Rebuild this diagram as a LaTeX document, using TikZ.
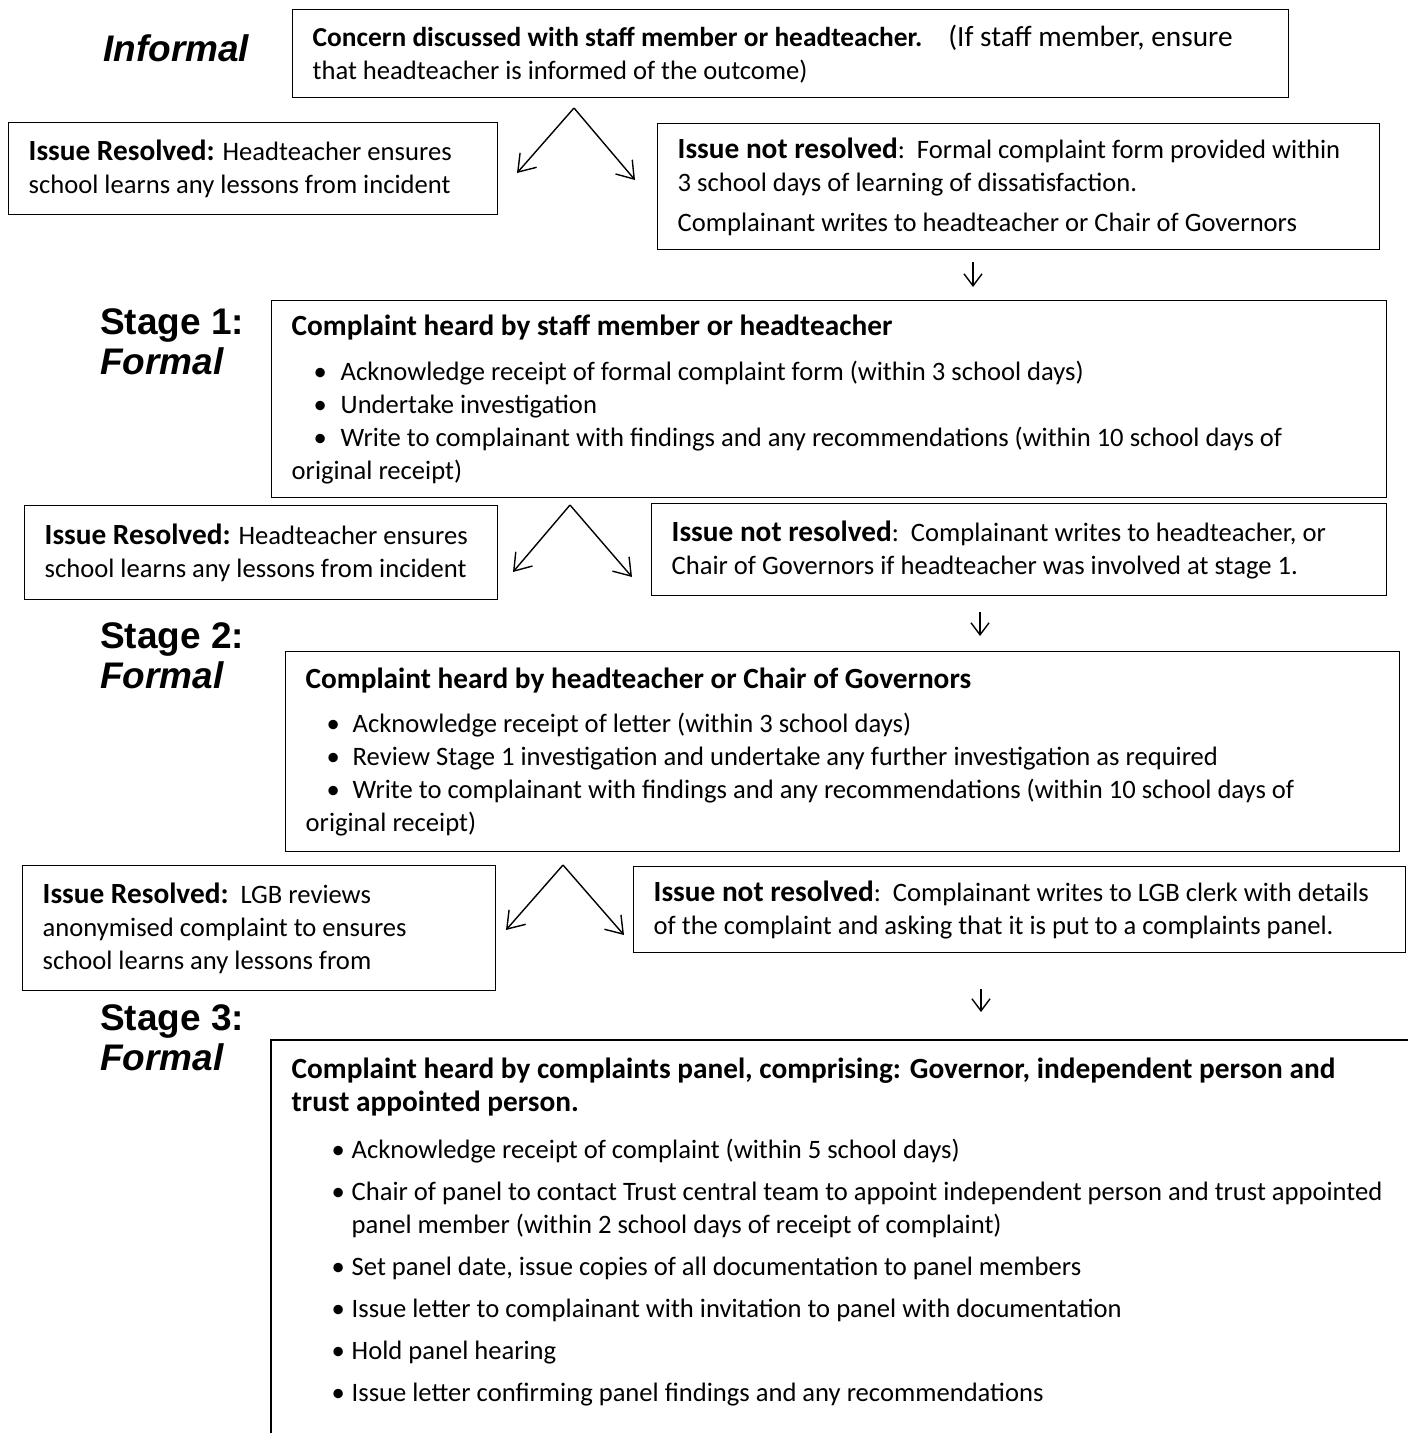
\documentclass[tikz,border=0pt]{standalone}
\usepackage{fontspec}
\setmainfont{Carlito}
\newfontfamily\stagefont{Liberation Sans}
\usepackage{tikz}
\usetikzlibrary{arrows.meta}

\newcommand\flowfont{\fontsize{26.6pt}{33pt}\selectfont\parindent=0pt\hyphenpenalty=10000}
\newcommand\bigrun{\fontsize{29.3pt}{33pt}\selectfont}
\newcommand\bulitem[3]{\par\hangindent=#2\hangafter=1\noindent\hspace*{#1}\makebox[\dimexpr#2-#1\relax][l]{\textbullet}#3}

\tikzset{
  flowbox/.style={draw, line width=1.4pt, anchor=north west, inner xsep=20pt, inner ysep=0pt, align=flush left, font=\flowfont},
  stagelabel/.style={anchor=west, inner sep=0pt, align=left, font=\stagefont\bfseries\fontsize{37pt}{40pt}\selectfont},
  >={Straight Barb[length=16pt,width=22pt]},
  forkline/.style={->, line width=1.4pt},
  downline/.style={-{Straight Barb[length=12pt,width=18pt]}, line width=1.4pt}
}

\begin{document}
\begin{tikzpicture}[x=1pt, y=-1pt]
    \useasboundingbox (0,0) rectangle (1408,1433);

    \path (103,48) node [stagelabel] (informal) {\itshape Informal};
    \path (292,9) node [flowbox, text width=956pt, minimum height=88pt] (concern) {{\fontsize{27.4pt}{33pt}\selectfont\textbf{Concern discussed with staff member or headteacher.}}\hspace{26pt}{\bigrun(If staff member, ensure}\\that headteacher is informed of the outcome)};
    \path (8,122) node [flowbox, text width=449pt, minimum height=92pt] (resolved1) {{\bigrun\textbf{Issue Resolved:}} Headteacher ensures\\school learns any lessons from incident};
    \path (657,123) node [flowbox, text width=682pt, minimum height=126pt] (notres1) {{\bigrun\textbf{Issue not resolved}}:~~Formal complaint form provided within\\3 school days of learning of dissatisfaction.\\[7pt]Complainant writes to headteacher or Chair of Governors};
    \path (574,108) coordinate (fork1) (517,173) coordinate (fork1l) (635,180) coordinate (fork1r);
    \draw [forkline] (fork1) -- (fork1l);
    \draw [forkline] (fork1) -- (fork1r);
    \path (973,262) coordinate (down1a) (973,287) coordinate (down1b);
    \draw [downline] (down1a) -- (down1b);

    \path (100,342) node [stagelabel] (stage1) {Stage 1:\\\textit{Formal}};
    \path (271,300) node [flowbox, text width=1075pt, minimum height=197pt] (heard1) {{\bigrun\textbf{Complaint heard by staff member or headteacher}}\par\vspace{12pt}
      \bulitem{22pt}{49pt}{Acknowledge receipt of formal complaint form (within 3 school days)}
      \bulitem{22pt}{49pt}{Undertake investigation}
      \bulitem{22pt}{49pt}{Write to complainant with findings and any recommendations (within 10 school days of\newline original receipt)}};
    \path (24,505) node [flowbox, text width=433pt, minimum height=94pt] (resolved2) {{\bigrun\textbf{Issue Resolved:}} Headteacher ensures\\school learns any lessons from incident};
    \path (651,503) node [flowbox, text width=695pt, minimum height=92pt] (notres2) {{\bigrun\textbf{Issue not resolved}}:~~Complainant writes to headteacher, or\\Chair of Governors if headteacher was involved at stage 1.};
    \path (570,505) coordinate (fork2) (513,572) coordinate (fork2l) (632,577) coordinate (fork2r);
    \draw [forkline] (fork2) -- (fork2l);
    \draw [forkline] (fork2) -- (fork2r);
    \path (980,612) coordinate (down2a) (980,636) coordinate (down2b);
    \draw [downline] (down2a) -- (down2b);

    \path (100,656) node [stagelabel] (stage2) {Stage 2:\\\textit{Formal}};
    \path (285,651) node [flowbox, text width=1074pt, minimum height=200pt] (heard2) {{\bigrun\textbf{Complaint heard by headteacher or Chair of Governors}}\par\vspace{11pt}
      \bulitem{21pt}{47pt}{Acknowledge receipt of letter (within 3 school days)}
      \bulitem{21pt}{47pt}{Review Stage 1 investigation and undertake any further investigation as required}
      \bulitem{21pt}{47pt}{Write to complainant with findings and any recommendations (within 10 school days of\newline original receipt)}};
    \path (22,865) node [flowbox, text width=433pt, minimum height=125pt] (resolved3) {{\bigrun\textbf{Issue Resolved:}}~~LGB reviews\\anonymised complaint to ensures\\school learns any lessons from};
    \path (633,866) node [flowbox, text width=732pt, minimum height=86pt] (notres3) {{\bigrun\textbf{Issue not resolved}}:~~Complainant writes to LGB clerk with details\\of the complaint and asking that it is put to a complaints panel.};
    \path (563,865) coordinate (fork3) (506,930) coordinate (fork3l) (624,935) coordinate (fork3r);
    \draw [forkline] (fork3) -- (fork3l);
    \draw [forkline] (fork3) -- (fork3r);
    \path (981,989) coordinate (down3a) (981,1012) coordinate (down3b);
    \draw [downline] (down3a) -- (down3b);

    \path (100,1038) node [stagelabel] (stage3) {Stage 3:\\\textit{Formal}};
    \path (271,1040) node [flowbox, draw=none, inner ysep=17pt, text width=1100pt] (heard3) {\parskip=9pt{\bigrun\textbf{Complaint heard by complaints panel, comprising: Governor, independent person and\\trust appointed person.}}\par\vspace{5pt}
      \bulitem{40pt}{60pt}{Acknowledge receipt of complaint (within 5 school days)}
      \bulitem{40pt}{60pt}{Chair of panel to contact Trust central team to appoint independent person and trust appointed\newline panel member (within 2 school days of receipt of complaint)}
      \bulitem{40pt}{60pt}{Set panel date, issue copies of all documentation to panel members}
      \bulitem{40pt}{60pt}{Issue letter to complainant with invitation to panel with documentation}
      \bulitem{40pt}{60pt}{Hold panel hearing}
      \bulitem{40pt}{60pt}{Issue letter confirming panel findings and any recommendations}};
    \path (1420,1445) coordinate (pagecorner);
    \draw [line width=1.4pt] (heard3.north west -| pagecorner) -- (heard3.north west) -- (heard3.north west |- pagecorner);
\end{tikzpicture}
\end{document}
